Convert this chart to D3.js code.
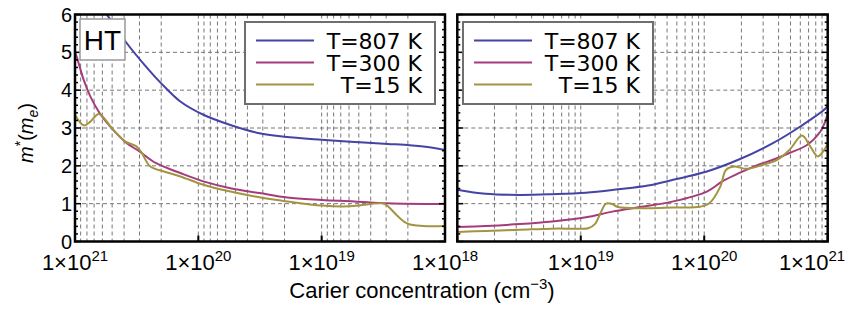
<!DOCTYPE html>
<html>
<head>
<meta charset="utf-8">
<script src="https://cdn.jsdelivr.net/npm/d3@7"></script>
<style>
  body { margin: 0; background: #fff; }
  svg { display: block; }
</style>
</head>
<body>
<svg width="850" height="320"></svg>
<script>
let svg = d3.select("svg"),
    width = +svg.attr("width"),
    height = +svg.attr("height");

//Series names and colours (legend order)
let seriesNames = ["T=807 K", "T=300 K", "T=15 K"];
let seriesColors = ["#4444a4", "#a43c7c", "#a39440"];

//Left panel: concentration falls from 1e21 to 1e18, [carriers, m*]
let left807 = [[6.0e20, 6.15], [5.5e20, 5.99], [3.8e20, 5.24], [2.8e20, 4.71], [2.0e20, 4.18],
    [1.4e20, 3.70], [9.1e19, 3.35], [5.5e19, 3.08], [3.2e19, 2.86], [2.0e19, 2.77],
    [1.0e19, 2.69], [5.4e18, 2.63], [2.9e18, 2.58], [1.5e18, 2.51], [1.0e18, 2.42]];
let left300 = [[1.0e21, 5.0], [9.7e20, 4.89], [8.5e20, 4.27], [7.5e20, 3.83], [6.3e20, 3.39],
    [4.9e20, 2.95], [3.8e20, 2.60], [3.0e20, 2.38], [2.2e20, 2.07], [1.4e20, 1.81],
    [9.1e19, 1.59], [5.5e19, 1.41], [3.2e19, 1.28], [1.9e19, 1.16], [1.0e19, 1.10],
    [5.4e18, 1.06], [2.9e18, 1.01], [1.0e18, 0.99]];
let left15 = [[1.0e21, 3.35], [8.5e20, 3.07], [7.5e20, 3.17], [6.4e20, 3.37], [4.9e20, 2.95],
    [3.9e20, 2.64], [3.2e20, 2.52], [2.9e20, 2.36], [2.45e20, 1.98], [1.9e20, 1.85],
    [1.4e20, 1.72], [9.1e19, 1.50], [5.5e19, 1.32], [3.2e19, 1.17], [1.9e19, 1.06],
    [1.0e19, 0.95], [6.0e18, 0.93], [4.5e18, 0.97], [3.2e18, 1.01], [2.95e18, 0.95],
    [2.4e18, 0.66], [2.0e18, 0.47], [1.5e18, 0.41], [1.0e18, 0.41]];

//Right panel: concentration rises from 1e18 to 1e21
let right807 = [[1.0e18, 1.37], [1.7e18, 1.26], [3.2e18, 1.23], [5.9e18, 1.25], [1.1e19, 1.29],
    [2.0e19, 1.38], [3.5e19, 1.48], [5.6e19, 1.63], [1.05e20, 1.85], [1.95e20, 2.18],
    [3.6e20, 2.60], [6.0e20, 3.04], [9.5e20, 3.50], [1.0e21, 3.60]];
let right300 = [[1.0e18, 0.38], [1.7e18, 0.41], [3.2e18, 0.46], [5.9e18, 0.53], [1.1e19, 0.64],
    [1.8e19, 0.79], [3.0e19, 0.91], [5.6e19, 1.06], [1.05e20, 1.32], [1.4e20, 1.59],
    [1.95e20, 1.82], [2.6e20, 2.0], [3.6e20, 2.16], [4.9e20, 2.34], [6.8e20, 2.55],
    [8.7e20, 2.90], [9.5e20, 3.15], [1.0e21, 3.38]];
let right15 = [[1.0e18, 0.25], [1.7e18, 0.28], [3.2e18, 0.31], [5.9e18, 0.34], [9.5e18, 0.34],
    [1.15e19, 0.35], [1.3e19, 0.46], [1.45e19, 0.76], [1.6e19, 1.0], [1.8e19, 0.99],
    [2.0e19, 0.91], [3.5e19, 0.88], [5.6e19, 0.90], [9.3e19, 0.92], [1.1e20, 1.01],
    [1.35e20, 1.45], [1.5e20, 1.89], [1.75e20, 1.98], [2.2e20, 1.92], [3.0e20, 2.03],
    [3.9e20, 2.16], [4.9e20, 2.42], [6.2e20, 2.80], [7.2e20, 2.52], [8.3e20, 2.25],
    [9.5e20, 2.45], [1.0e21, 2.60]];

let yTicks = [0, 1, 2, 3, 4, 5, 6];
let decades = [1e18, 1e19, 1e20, 1e21];
let leftTickLabels = [[1e21, "21"], [1e20, "20"], [1e19, "19"], [1e18, "18"]];
let rightTickLabels = [[1e19, "19"], [1e20, "20"], [1e21, "21"]];

let plotTop = 14.5, plotBottom = 241.5;
let y = d3.scaleLinear().domain([0, 6]).range([plotBottom, plotTop]);

let panels = [
    {x: d3.scaleLog().domain([1e21, 1e18]).range([75, 445]), series: [left807, left300, left15],
     labels: leftTickLabels, yLabels: true, legendX: 245},
    {x: d3.scaleLog().domain([1e18, 1e21]).range([457.3, 827.7]), series: [right807, right300, right15],
     labels: rightTickLabels, yLabels: false, legendX: 463}
];

//Log grid values 1..9 x each decade
function gridValues(){
    let vals = [];
    [1e18, 1e19, 1e20].forEach(d => {
        for (let k = 1; k <= 9; k++) vals.push(k * d);
    });
    vals.push(1e21);
    return vals;
}

let defs = svg.append("defs");

panels.forEach((p, i) => {
    let x = p.x;
    let x0 = Math.min(...x.range()), x1 = Math.max(...x.range());
    let g = svg.append("g").attr("class", "panel");

    defs.append("clipPath").attr("id", "clip" + i)
        .append("rect")
        .attr("x", x0).attr("y", plotTop)
        .attr("width", x1 - x0).attr("height", plotBottom - plotTop);

    //dashed grid
    g.append("g").selectAll("line")
        .data(gridValues().filter(v => v > 1e18 && v < 1e21)).enter().append("line")
            .attr("x1", d => x(d)).attr("x2", d => x(d))
            .attr("y1", plotTop).attr("y2", plotBottom)
            .attr("stroke", "#777").attr("stroke-width", 1)
            .attr("stroke-dasharray", "4,3");
    g.append("g").selectAll("line")
        .data(yTicks.slice(1, -1)).enter().append("line")
            .attr("x1", x0).attr("x2", x1)
            .attr("y1", d => y(d)).attr("y2", d => y(d))
            .attr("stroke", "#777").attr("stroke-width", 1)
            .attr("stroke-dasharray", "4,3");

    //curves
    let line = d3.line()
        .x(d => x(d[0]))
        .y(d => y(d[1]))
        .curve(d3.curveCatmullRom.alpha(0.5));
    g.append("g").attr("clip-path", "url(#clip" + i + ")")
        .selectAll("path")
        .data(p.series).enter().append("path")
            .attr("d", line)
            .attr("fill", "none")
            .attr("stroke", (d, j) => seriesColors[j])
            .attr("stroke-width", 2);

    //y ticks on both sides, inside
    let yMinor = d3.range(0, 6.01, 0.2);
    [x0, x1].forEach(xe => {
        let dir = xe === x0 ? 1 : -1;
        g.append("g").selectAll("line")
            .data(yMinor).enter().append("line")
                .attr("x1", xe).attr("x2", d => xe + dir * (Math.abs(d - Math.round(d)) < 1e-6 ? 6 : 3))
                .attr("y1", d => y(d)).attr("y2", d => y(d))
                .attr("stroke", "#000").attr("stroke-width", 1.5);
    });
    //x decade ticks on the bottom
    g.append("g").selectAll("line")
        .data(decades).enter().append("line")
            .attr("x1", d => x(d)).attr("x2", d => x(d))
            .attr("y1", plotBottom).attr("y2", plotBottom - 6)
            .attr("stroke", "#000").attr("stroke-width", 2);

    //frame
    g.append("rect")
        .attr("x", x0).attr("y", plotTop)
        .attr("width", x1 - x0).attr("height", plotBottom - plotTop)
        .attr("fill", "none").attr("stroke", "#000").attr("stroke-width", 2.5);

    //x tick labels 1x10^n
    let lab = g.append("g").selectAll("text")
        .data(p.labels).enter().append("text")
            .attr("x", d => Math.min(x(d[0]), 812))
            .attr("y", 270)
            .attr("text-anchor", "middle")
            .style("font-family", "'Liberation Sans', Arial, sans-serif")
            .style("font-size", "22px");
    lab.append("tspan").text("1×10");
    lab.append("tspan").text(d => d[1])
        .attr("dy", -9).style("font-size", "15px");

    if (p.yLabels){
        g.append("g").selectAll("text")
            .data(yTicks).enter().append("text")
                .attr("x", 72).attr("y", d => y(d) + 7)
                .attr("text-anchor", "end")
                .style("font-family", "'Liberation Sans', Arial, sans-serif")
                .style("font-size", "20px")
                .text(d => d);
    }

    //legend
    let lg = g.append("g").attr("transform", "translate(" + p.legendX + ",22)");
    lg.append("rect")
        .attr("width", 190).attr("height", 82)
        .attr("fill", "#fff").attr("stroke", "#6e6e6e").attr("stroke-width", 2);
    seriesNames.forEach((name, j) => {
        let ly = 18.5 + j * 22;
        lg.append("line")
            .attr("x1", 11).attr("x2", 69)
            .attr("y1", ly).attr("y2", ly)
            .attr("stroke", seriesColors[j]).attr("stroke-width", 2);
        lg.append("text")
            .attr("x", 177).attr("y", ly + 8)
            .attr("text-anchor", "end")
            .style("font-family", "'DejaVu Sans', sans-serif")
            .style("font-size", "22px")
            .text(name);
    });
});

//HT label box
svg.append("rect")
    .attr("x", 80).attr("y", 19).attr("width", 45).attr("height", 41)
    .attr("fill", "#fff").attr("stroke", "#999").attr("stroke-width", 1.5);
svg.append("text")
    .attr("x", 102.5).attr("y", 50)
    .attr("text-anchor", "middle")
    .style("font-family", "'Liberation Sans', Arial, sans-serif")
    .style("font-size", "28px")
    .text("HT");

//y axis title
let yt = svg.append("text")
    .attr("transform", "translate(33,133) rotate(-90)")
    .attr("text-anchor", "middle")
    .style("font-family", "'Liberation Sans', Arial, sans-serif")
    .style("font-size", "20px");
yt.append("tspan").text("m").style("font-style", "italic");
yt.append("tspan").text("*").attr("dy", -8).style("font-size", "14px");
yt.append("tspan").text("(").attr("dy", 8);
yt.append("tspan").text("m").style("font-style", "italic");
yt.append("tspan").text("e").attr("dy", 5).style("font-size", "14px").style("font-style", "italic");
yt.append("tspan").text(")").attr("dy", -5);

//x axis title
let xt = svg.append("text")
    .attr("x", 422).attr("y", 298)
    .attr("text-anchor", "middle")
    .style("font-family", "'Liberation Sans', Arial, sans-serif")
    .style("font-size", "22px");
xt.append("tspan").text("Carier concentration (cm");
xt.append("tspan").text("−3").attr("dy", -9).style("font-size", "15px");
xt.append("tspan").text(")").attr("dy", 9);
</script>
</body>
</html>
